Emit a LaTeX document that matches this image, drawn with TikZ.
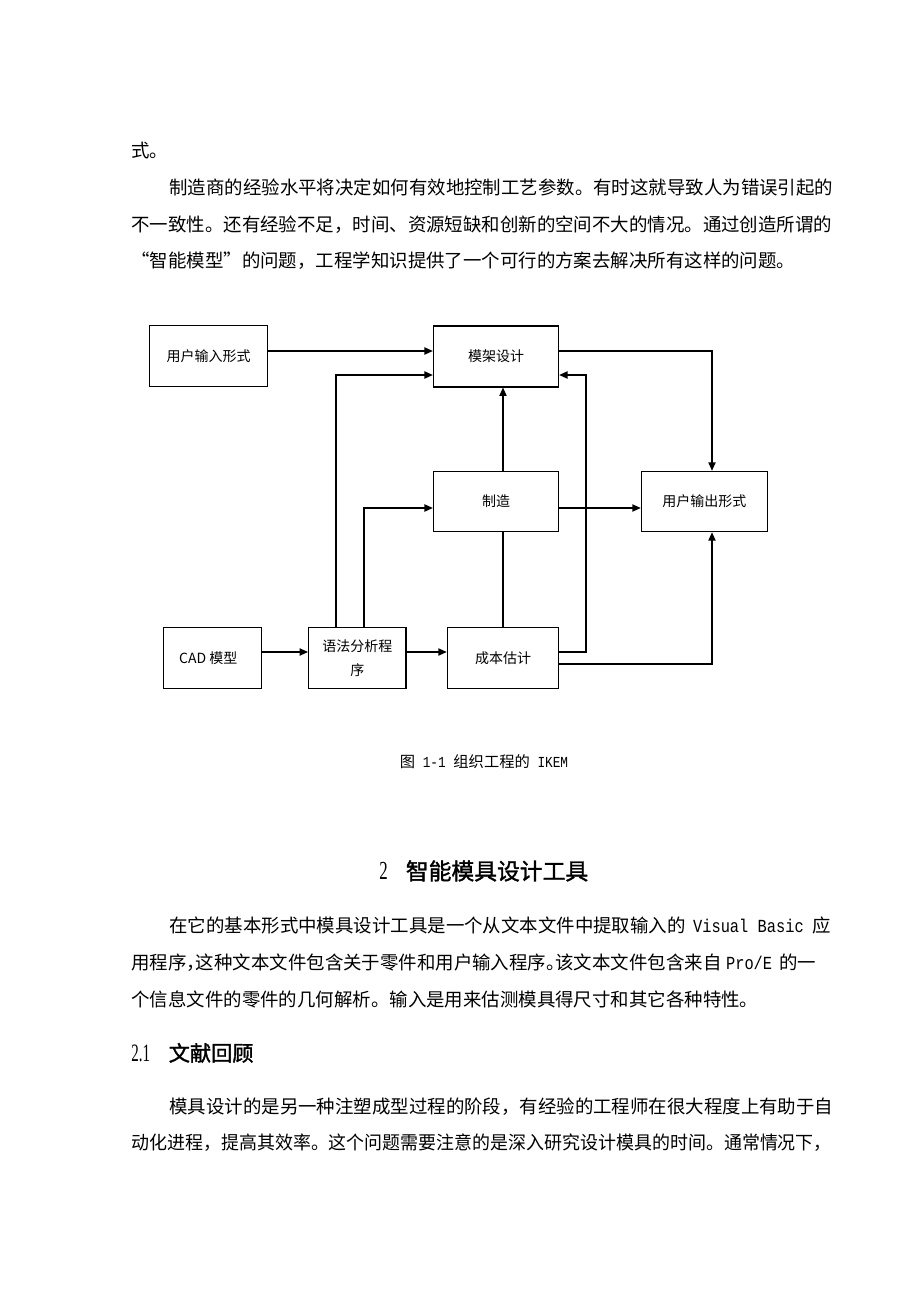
\documentclass[tikz,border=0pt]{standalone}
\usepackage{fontspec}
\usepackage{graphicx}
\setmainfont{Noto Sans CJK SC}
\newfontfamily\hei{Noto Sans CJK SC}[FakeBold=1.5]
\newfontfamily\rmlatin{Liberation Serif}
\newfontfamily\hw{Liberation Mono}
\usetikzlibrary{arrows.meta}

\newcommand{\bodysize}{\fontsize{9.22pt}{11pt}\selectfont}
\newcommand{\halfw}[1]{{\hw\scalebox{0.833}[1]{#1}}}

\begin{document}
\begin{tikzpicture}[x=0.5pt, y=-0.5pt,
  box/.style={draw, line width=0.55pt, inner sep=0pt, align=center,
    font=\fontsize{7pt}{12pt}\selectfont},
  arr/.style={line width=0.65pt, -{Triangle[length=4.2pt, width=3.6pt]}},
  link/.style={line width=0.65pt},
  txt/.style={anchor=west, inner sep=0pt, text height=7.8pt, text depth=0.9pt, font=\bodysize}]
\fill[white] (0,0) rectangle (920,1302);

\node[txt] (t0) at (131,151) {式。};
\node[txt] (t1) at (169,188) {制造商的经验水平将决定如何有效地控制工艺参数。有时这就导致人为错误引起的};
\node[txt] (t2) at (131,225) {不一致性。还有经验不足，时间、资源短缺和创新的空间不大的情况。通过创造所谓的};
\node[txt] (t3) at (131,261) {“智能模型”的问题，工程学知识提供了一个可行的方案去解决所有这样的问题。};

\node[box, minimum width=58.9pt, minimum height=30.4pt] (uin) at (208.5,356.3) {用户输入形式};
\node[box, minimum width=62.6pt, minimum height=30.5pt] (mold) at (496,356.5) {模架设计};
\node[box, minimum width=62.6pt, minimum height=30.2pt] (manu) at (496,501.5) {制造};
\node[box, minimum width=63pt, minimum height=30.2pt] (uout) at (704.3,501.5) {用户输出形式};
\node[box, minimum width=48.8pt, minimum height=30.3pt] (cad) at (212.3,658) {CAD 模型\hspace{4pt}};
\node[box, minimum width=48.7pt, minimum height=30.3pt] (parse) at (357.3,658) {语法分析程\\序};
\node[box, minimum width=55.7pt, minimum height=30.3pt] (cost) at (503,658) {成本估计};

\coordinate (upA) at (336,375);
\coordinate (upB) at (364,508);
\coordinate (loop) at (586,375);
\coordinate (loopb) at (586,652);
\coordinate (outT) at (712,351);
\coordinate (outB) at (712,664);

\draw[arr] (uin.east |- outT) -- (mold.west |- outT);
\draw[arr] (parse.north -| upA) |- (mold.west |- upA);
\draw[arr] (parse.north -| upB) |- (manu.west |- upB);
\draw[arr] (manu.north -| cost.north) -- (mold.south -| cost.north);
\draw[link] (cost.north) -- (manu.south -| cost.north);
\draw[arr] (cost.east |- loopb) -- (loopb) -- (loop) -- (mold.east |- loop);
\draw[arr] (cost.east |- outB) -- (outB) -- (uout.south -| outB);
\draw[arr] (mold.east |- outT) -- (outT) -- (uout.north -| outT);
\draw[arr] (manu.east |- upB) -- (uout.west |- upB);
\draw[arr] (cad.east |- loopb) -- (parse.west |- loopb);
\draw[arr] (parse.east |- loopb) -- (cost.west |- loopb);

\node[txt, anchor=center, text height=6.5pt, text depth=0.8pt, font=\fontsize{7.65pt}{9pt}\selectfont] (cap) at (484,762)
  {图\halfw{\ 1-1\ }组织工程的\halfw{\ IKEM}};

\node[txt, text height=9.7pt, text depth=1.1pt, font=\fontsize{11.4pt}{14pt}\selectfont] (h2) at (379,871)
  {{\rmlatin\fontsize{13pt}{14pt}\selectfont\scalebox{0.65}[1]{2}}\hspace{9pt}{\hei 智能模具设计工具}};

\node[txt] (s1) at (169,926) {在它的基本形式中模具设计工具是一个从文本文件中提取输入的\hspace{3.7pt}\halfw{Visual Basic}\hspace{4.5pt}应};
\node[txt] (s2) at (131,963) {用程序\makebox[0.5em][l]{，}这种文本文件包含关于零件和用户输入程序\makebox[0.5em][l]{。}该文本文件包含来自\hspace{2.3pt}\halfw{Pro/E}\hspace{3.5pt}的一};
\node[txt] (s3) at (131,1000) {个信息文件的零件的几何解析。输入是用来估测模具得尺寸和其它各种特性。};

\node[txt, text height=9pt, text depth=1pt, font=\fontsize{10.6pt}{13pt}\selectfont] (h21) at (131,1053)
  {{\rmlatin\fontsize{12.5pt}{14pt}\selectfont\scalebox{0.6}[1]{2.1}}\hspace{9.3pt}{\hei 文献回顾}};

\node[txt] (r1) at (169,1107) {模具设计的是另一种注塑成型过程的阶段，有经验的工程师在很大程度上有助于自};
\node[txt] (r2) at (131,1143) {\scalebox{0.974}[1]{动化进程，提高其效率。这个问题需要注意的是深入研究设计模具的时间。通常情况下，}};
\end{tikzpicture}
\end{document}
